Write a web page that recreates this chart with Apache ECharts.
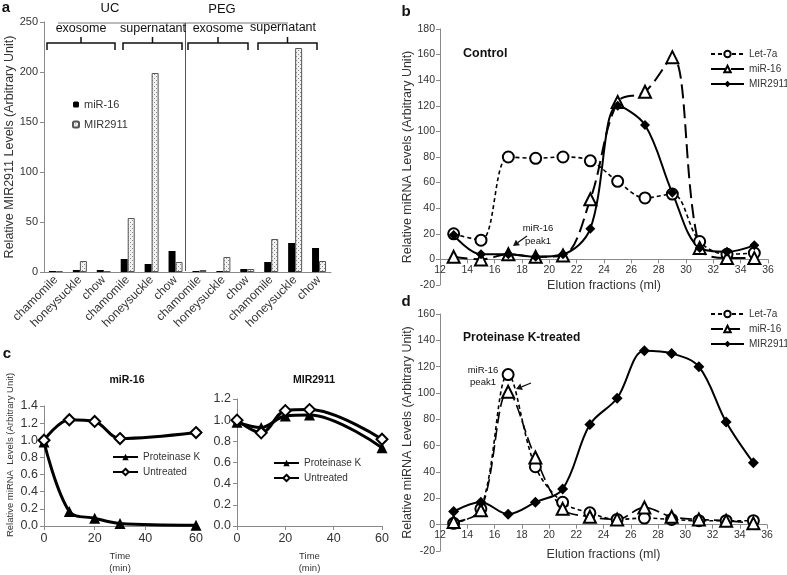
<!DOCTYPE html>
<html><head><meta charset="utf-8">
<script src="https://cdn.jsdelivr.net/npm/echarts@6/dist/echarts.min.js"></script>
<style>html,body{margin:0;padding:0;background:#fff}#c{width:787px;height:575px}</style>
</head><body><div id="c"></div>
<script>
// ---- Panel a data ----
const aCategories = ['chamomile','honeysuckle','chow','chamomile','honeysuckle','chow','chamomile','honeysuckle','chow','chamomile','honeysuckle','chow'];
const aMiR16   = [1, 2, 2, 13, 8, 21, 1, 1, 3, 10, 29, 24];
const aMIR2911 = [1, 11, 1, 54, 199, 10, 2, 15, 3, 33, 224, 11];

// ---- Panel b data (Control) ----
const fractions = [13, 15, 17, 19, 21, 23, 25, 27, 29, 31, 33, 35];
const bLet7a   = [20, 15, 80, 79, 80, 77, 61, 48, 51, 14, 4, 5];
const bMiR16   = [2, 0, 4, 2, 3, 47, 123, 131, 158, 9, 1, 1];
const bMIR2911 = [19, 4, 4, 2, 4, 24, 120, 105, 52, 9, 6, 11];

// ---- Panel c data ----
const cTime = [0, 10, 20, 30, 60];
const cMiR16ProtK     = [0.98, 0.17, 0.09, 0.03, 0.01];
const cMiR16Untreated = [1.00, 1.24, 1.22, 1.02, 1.09];
const cMIRProtK       = [0.98, 0.93, 1.04, 1.05, 0.74];
const cMIRUntreated   = [1.00, 0.88, 1.09, 1.10, 0.82];

// ---- Panel d data (Proteinase K-treated) ----
const dLet7a   = [1, 12, 114, 44, 17, 9, 4, 5, 4, 3, 3, 3];
const dMiR16   = [2, 11, 101, 51, 12, 6, 4, 13, 6, 4, 3, 1];
const dMIR2911 = [10, 17, 8, 17, 27, 76, 96, 132, 130, 120, 78, 47];

const FONT = 'Liberation Sans, Arial, sans-serif';
const AX = '#8a8a8a';
const TXT = '#333';

function pairs(xs, ys){ return xs.map((x,i)=>[x, ys[i]]); }

// dotted pattern for MIR2911 bars
const pat = document.createElement('canvas');
pat.width = 4; pat.height = 4;
(function(){ const g = pat.getContext('2d'); g.fillStyle='#f2f2f2'; g.fillRect(0,0,4,4); g.fillStyle='#8c8c8c'; g.fillRect(0,0,1,1); g.fillRect(2,2,1,1);} )();

const names = {
  a1:'miR-16', a2:'MIR2911',
  b1:'Let-7a', b2:'miR-16', b3:'MIR2911',
  c1:'Proteinase K', c2:'Untreated', c3:'Proteinase K', c4:'Untreated',
  d1:'Let-7a', d2:'miR-16', d3:'MIR2911'
};

function valAxis(o){
  return Object.assign({
    type:'value', splitLine:{show:false},
    axisLine:{show:true, onZero:false, lineStyle:{color:AX, width:1}},
    axisTick:{show:true, length:4, lineStyle:{color:AX}},
    axisLabel:{color:TXT, fontFamily:FONT, fontSize:10.5, margin:5},
    nameTextStyle:{color:TXT, fontFamily:FONT, fontSize:12.5},
    nameLocation:'middle'
  }, o);
}

const grids = [
  {left:44, top:22, width:287, height:250},     // a
  {left:440, top:29, width:328, height:256},    // b
  {left:44, top:406, width:152, height:121},    // c left
  {left:237, top:399, width:145, height:127},   // c right
  {left:440, top:314, width:327, height:237}    // d
];
const bY = {min:-20, max:180}, dY = {min:-20, max:160};
// x axis drawn through y = 0 (offset derived from the y range)
const bOff = -grids[1].height * (0 - bY.min) / (bY.max - bY.min);
const dOff = -grids[4].height * (0 - dY.min) / (dY.max - dY.min);

const option = {
  animation:false,
  backgroundColor:'#fff',
  textStyle:{fontFamily:FONT},
  grid: grids,
  xAxis:[
    {type:'category', gridIndex:0, data:aCategories,
      axisLine:{lineStyle:{color:AX}}, axisTick:{length:4, lineStyle:{color:AX}},
      axisLabel:{rotate:45, color:TXT, fontFamily:FONT, fontSize:12, margin:6, interval:0}},
    valAxis({gridIndex:1, min:12, max:36, interval:2, offset:bOff, name:'Elution fractions (ml)', nameGap:20}),
    valAxis({gridIndex:2, min:0, max:60, interval:20, name:'Time\n(min)', nameGap:24,
      nameTextStyle:{color:TXT, fontFamily:FONT, fontSize:9.5, lineHeight:12},
      axisLabel:{color:TXT, fontFamily:FONT, fontSize:12.5, margin:6}}),
    valAxis({gridIndex:3, min:0, max:60, interval:20, name:'Time\n(min)', nameGap:24,
      nameTextStyle:{color:TXT, fontFamily:FONT, fontSize:9.5, lineHeight:12},
      axisLabel:{color:TXT, fontFamily:FONT, fontSize:12.5, margin:6}}),
    valAxis({gridIndex:4, min:12, max:36, interval:2, offset:dOff, name:'Elution fractions (ml)', nameGap:23})
  ],
  yAxis:[
    valAxis({gridIndex:0, min:0, max:250, interval:50, name:'Relative MIR2911 Levels (Arbitrary Unit)', nameGap:24,
      axisLabel:{color:TXT, fontFamily:FONT, fontSize:11, margin:6}}),
    valAxis({gridIndex:1, min:bY.min, max:bY.max, interval:20, name:'Relative miRNA Levels (Arbitrary Unit)', nameGap:24}),
    valAxis({gridIndex:2, min:0, max:1.4, interval:0.2, name:'Relative miRNA  Levels (Arbitrary Unit)', nameGap:29,
      nameTextStyle:{color:TXT, fontFamily:FONT, fontSize:9.5, padding:[0,0,0,22]},
      axisLabel:{color:TXT, fontFamily:FONT, fontSize:12.5, margin:6, formatter:v=>v.toFixed(1)}}),
    valAxis({gridIndex:3, min:0, max:1.2, interval:0.2,
      axisLabel:{color:TXT, fontFamily:FONT, fontSize:12.5, margin:6, formatter:v=>v.toFixed(1)}}),
    valAxis({gridIndex:4, min:dY.min, max:dY.max, interval:20, name:'Relative miRNA Levels (Arbitrary Unit)', nameGap:24})
  ],
  legend:[
    {data:['a1','a2'], formatter:n=>names[n], orient:'vertical', left:72, top:99, padding:0, itemWidth:6, itemHeight:6, itemGap:9,
      textStyle:{fontFamily:FONT, fontSize:11, color:TXT}},
    {data:['b1','b2','b3'], formatter:n=>names[n], orient:'vertical', left:710, top:49, padding:0, itemWidth:33, itemHeight:8, itemGap:5,
      textStyle:{fontFamily:FONT, fontSize:10, color:TXT}},
    {data:['c1','c2'], formatter:n=>names[n], orient:'vertical', left:112, top:452, padding:0, itemWidth:25, itemHeight:8, itemGap:5,
      textStyle:{fontFamily:FONT, fontSize:10, color:TXT}},
    {data:['c3','c4'], formatter:n=>names[n], orient:'vertical', left:273, top:458, padding:0, itemWidth:25, itemHeight:8, itemGap:5,
      textStyle:{fontFamily:FONT, fontSize:10, color:TXT}},
    {data:['d1','d2','d3'], formatter:n=>names[n], orient:'vertical', left:710, top:309, padding:0, itemWidth:33, itemHeight:8, itemGap:5,
      textStyle:{fontFamily:FONT, fontSize:10, color:TXT}}
  ],
  title:[
    {text:'Control', left:463, top:47, padding:0, textStyle:{fontFamily:FONT, fontSize:12.5, fontWeight:'bold', color:'#111'}},
    {text:'Proteinase K-treated', left:463, top:332, padding:0, textStyle:{fontFamily:FONT, fontSize:12, fontWeight:'bold', color:'#111'}},
    {text:'miR-16', left:127, top:375, padding:0, textAlign:'center', textStyle:{fontFamily:FONT, fontSize:10.5, fontWeight:'bold', color:'#111'}},
    {text:'MIR2911', left:314, top:375, padding:0, textAlign:'center', textStyle:{fontFamily:FONT, fontSize:10.5, fontWeight:'bold', color:'#111'}}
  ],
  series:[
    {name:'a1', type:'bar', xAxisIndex:0, yAxisIndex:0, data:aMiR16, barWidth:7, barGap:'0%',
      itemStyle:{color:'#000'}},
    {name:'a2', type:'bar', xAxisIndex:0, yAxisIndex:0, data:aMIR2911, barWidth:7, barGap:'0%',
      itemStyle:{color:{image:pat, repeat:'repeat'}, borderColor:'#555', borderWidth:1}},

    {name:'b1', type:'line', xAxisIndex:1, yAxisIndex:1, data:pairs(fractions,bLet7a), smooth:0.35,
      symbol:'emptyCircle', symbolSize:11, color:'#000', lineStyle:{color:'#000', width:1.6, type:[4,3]}, itemStyle:{color:'#000', borderWidth:1.2}},
    {name:'b2', type:'line', xAxisIndex:1, yAxisIndex:1, data:pairs(fractions,bMiR16), smooth:0.35,
      symbol:'emptyTriangle', symbolSize:12, color:'#000', lineStyle:{color:'#000', width:2, type:[14,6]}, itemStyle:{color:'#000', borderWidth:1.5}},
    {name:'b3', type:'line', xAxisIndex:1, yAxisIndex:1, data:pairs(fractions,bMIR2911), smooth:0.35,
      symbol:'diamond', symbolSize:10, color:'#000', lineStyle:{color:'#000', width:2}, itemStyle:{color:'#000'}},

    {name:'c1', type:'line', xAxisIndex:2, yAxisIndex:2, data:pairs(cTime,cMiR16ProtK), smooth:0.35,
      symbol:'triangle', symbolSize:11, color:'#000', lineStyle:{color:'#000', width:3}, itemStyle:{color:'#000'}},
    {name:'c2', type:'line', xAxisIndex:2, yAxisIndex:2, data:pairs(cTime,cMiR16Untreated), smooth:0.35,
      symbol:'emptyDiamond', symbolSize:11, color:'#000', lineStyle:{color:'#000', width:3}, itemStyle:{color:'#000', borderWidth:1.5}},
    {name:'c3', type:'line', xAxisIndex:3, yAxisIndex:3, data:pairs(cTime,cMIRProtK), smooth:0.35,
      symbol:'triangle', symbolSize:11, color:'#000', lineStyle:{color:'#000', width:3}, itemStyle:{color:'#000'}},
    {name:'c4', type:'line', xAxisIndex:3, yAxisIndex:3, data:pairs(cTime,cMIRUntreated), smooth:0.35,
      symbol:'emptyDiamond', symbolSize:11, color:'#000', lineStyle:{color:'#000', width:3}, itemStyle:{color:'#000', borderWidth:1.5}},

    {name:'d1', type:'line', xAxisIndex:4, yAxisIndex:4, data:pairs(fractions,dLet7a), smooth:0.35,
      symbol:'emptyCircle', symbolSize:11, color:'#000', lineStyle:{color:'#000', width:1.6, type:[4,3]}, itemStyle:{color:'#000', borderWidth:1.2}},
    {name:'d2', type:'line', xAxisIndex:4, yAxisIndex:4, data:pairs(fractions,dMiR16), smooth:0.35,
      symbol:'emptyTriangle', symbolSize:12, color:'#000', lineStyle:{color:'#000', width:1.6, type:[12,5]}, itemStyle:{color:'#000', borderWidth:1}},
    {name:'d3', type:'line', xAxisIndex:4, yAxisIndex:4, data:pairs(fractions,dMIR2911), smooth:0.35,
      symbol:'diamond', symbolSize:11, color:'#000', lineStyle:{color:'#000', width:2}, itemStyle:{color:'#000'}}
  ]
};

const chart = echarts.init(document.getElementById('c'), null, {renderer:'canvas'});
chart.setOption(option);

// ---- annotations (decorations) ----
function txt(x, y, s, size, bold, align){
  return {type:'text', x:x, y:y, style:{text:s, fontFamily:FONT, fontSize:size, fontWeight:bold?'bold':'normal', fill:'#111', align:align||'center', verticalAlign:'middle'}};
}
function bracket(x1, x2){
  const xm = (x1+x2)/2;
  return {type:'polyline', shape:{points:[[x1,50],[x1,43],[xm,43],[xm,37],[xm,43],[x2,43],[x2,50]]}, style:{stroke:'#111', lineWidth:1.5, fill:null}};
}
function arrow(x1,y1,x2,y2){
  const ang = Math.atan2(y2-y1, x2-x1), L=6, W=3.5;
  const bx = x2 - L*Math.cos(ang), by = y2 - L*Math.sin(ang);
  const px = -Math.sin(ang)*W, py = Math.cos(ang)*W;
  return [
    {type:'line', shape:{x1:x1,y1:y1,x2:bx,y2:by}, style:{stroke:'#111', lineWidth:1.3}},
    {type:'polygon', shape:{points:[[x2,y2],[bx+px,by+py],[bx-px,by-py]]}, style:{fill:'#111'}}
  ];
}
const graphics = [
  txt(6, 8, 'a', 15, true), txt(406, 12, 'b', 15, true), txt(7, 354, 'c', 15, true), txt(406, 302, 'd', 15, true),
  txt(110, 8, 'UC', 13), txt(222, 9, 'PEG', 13),
  {type:'line', shape:{x1:58, y1:23, x2:288, y2:23}, style:{stroke:'#777', lineWidth:1}},
  {type:'line', shape:{x1:185.5, y1:23, x2:185.5, y2:271}, style:{stroke:'#555', lineWidth:1}},
  txt(81, 29, 'exosome', 12.5), txt(153, 29, 'supernatant', 12.5), txt(218, 29, 'exosome', 12.5), txt(283, 28, 'supernatant', 12.5),
  bracket(47,115), bracket(123,182), bracket(188,248), bracket(258,317),
  txt(538, 228, 'miR-16', 9.5), txt(538, 241, 'peak1', 9.5),
  txt(483, 370, 'miR-16', 9.5), txt(483, 382, 'peak1', 9.5)
].concat(arrow(527,236,513,246)).concat(arrow(531,383,516,389));
chart.setOption({graphic:graphics});
</script></body></html>
